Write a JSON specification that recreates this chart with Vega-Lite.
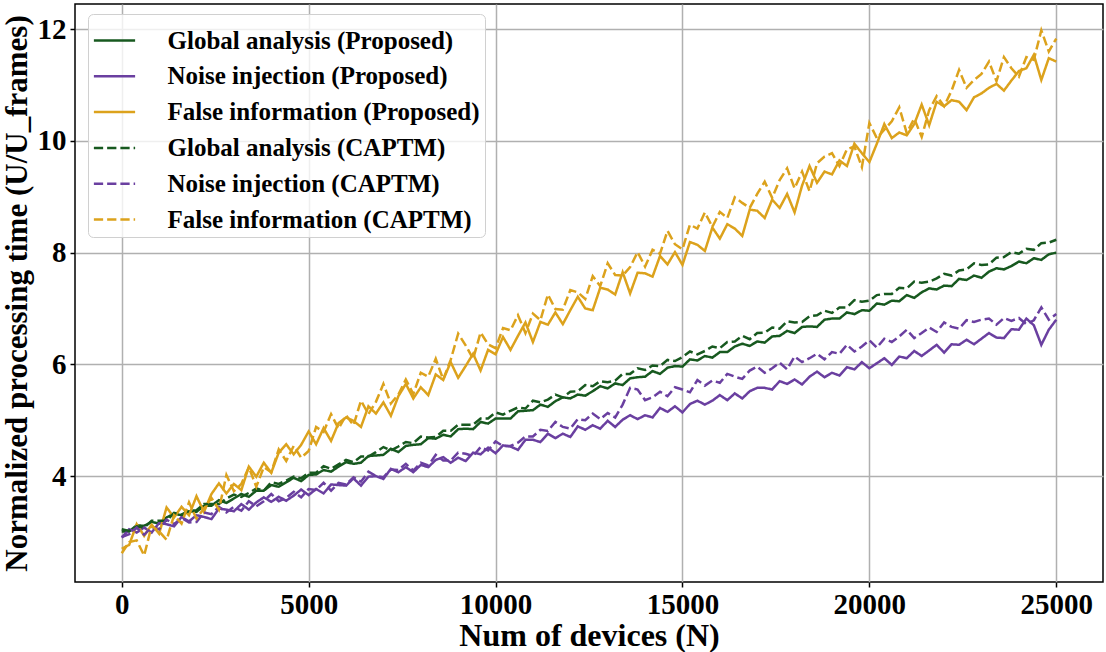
{
 "$schema": "https://vega.github.io/schema/vega-lite/v6.json",
 "width": 1028,
 "height": 578,
 "autosize": "none",
 "padding": {"left": 75, "top": 4, "right": 3, "bottom": 70},
 "background": "white",
 "config": {
  "font": "Liberation Serif",
  "view": {"stroke": "black", "strokeWidth": 1.5},
  "axis": {"labelFont": "Liberation Serif", "titleFont": "Liberation Serif", "labelFontWeight": "bold", "titleFontWeight": "bold", "labelColor": "black", "titleColor": "black", "labelFontSize": 29, "titleFontSize": 31, "gridColor": "#b0b0b0", "gridWidth": 1.5, "tickColor": "black", "tickSize": 5, "tickWidth": 1.5, "domain": false}
 },
 "data": {"values": [
{"x":0,"gp":3.01,"np":2.90,"fp":2.70,"gc":3.05,"nc":2.91,"fc":2.62},
{"x":200,"gp":3.01,"np":3.05,"fp":2.77,"gc":3.02,"nc":2.96,"fc":2.82},
{"x":400,"gp":3.12,"np":2.99,"fp":3.14,"gc":3.10,"nc":3.08,"fc":2.85},
{"x":600,"gp":3.11,"np":3.08,"fp":2.93,"gc":3.08,"nc":2.95,"fc":2.58},
{"x":800,"gp":3.18,"np":2.99,"fp":3.13,"gc":3.20,"nc":3.09,"fc":3.11},
{"x":1000,"gp":3.15,"np":3.16,"fp":2.97,"gc":3.20,"nc":3.05,"fc":3.01},
{"x":1200,"gp":3.26,"np":3.14,"fp":3.44,"gc":3.20,"nc":3.22,"fc":2.86},
{"x":1400,"gp":3.33,"np":3.10,"fp":3.26,"gc":3.34,"nc":3.14,"fc":3.30},
{"x":1600,"gp":3.30,"np":3.27,"fp":3.45,"gc":3.31,"nc":3.25,"fc":3.15},
{"x":1800,"gp":3.37,"np":3.19,"fp":3.30,"gc":3.38,"nc":3.17,"fc":3.53},
{"x":2000,"gp":3.36,"np":3.30,"fp":3.64,"gc":3.39,"nc":3.18,"fc":3.24},
{"x":2200,"gp":3.47,"np":3.27,"fp":3.36,"gc":3.50,"nc":3.35,"fc":3.42},
{"x":2400,"gp":3.47,"np":3.23,"fp":3.68,"gc":3.50,"nc":3.32,"fc":3.61},
{"x":2600,"gp":3.57,"np":3.42,"fp":3.87,"gc":3.50,"nc":3.45,"fc":3.40},
{"x":2800,"gp":3.52,"np":3.40,"fp":3.69,"gc":3.60,"nc":3.35,"fc":4.02},
{"x":3000,"gp":3.60,"np":3.37,"fp":3.86,"gc":3.67,"nc":3.45,"fc":3.73},
{"x":3200,"gp":3.68,"np":3.50,"fp":3.75,"gc":3.63,"nc":3.38,"fc":3.86},
{"x":3400,"gp":3.63,"np":3.40,"fp":4.17,"gc":3.70,"nc":3.55,"fc":4.16},
{"x":3600,"gp":3.74,"np":3.53,"fp":3.99,"gc":3.78,"nc":3.46,"fc":3.81},
{"x":3800,"gp":3.74,"np":3.62,"fp":4.24,"gc":3.74,"nc":3.55,"fc":4.16},
{"x":4000,"gp":3.84,"np":3.54,"fp":4.06,"gc":3.89,"nc":3.68,"fc":4.07},
{"x":4200,"gp":3.81,"np":3.63,"fp":4.42,"gc":3.86,"nc":3.55,"fc":4.48},
{"x":4400,"gp":3.89,"np":3.56,"fp":4.57,"gc":3.92,"nc":3.61,"fc":4.27},
{"x":4600,"gp":3.97,"np":3.65,"fp":4.39,"gc":3.99,"nc":3.72,"fc":4.54},
{"x":4800,"gp":3.91,"np":3.76,"fp":4.56,"gc":3.96,"nc":3.62,"fc":4.33},
{"x":5000,"gp":4.02,"np":3.66,"fp":4.80,"gc":4.06,"nc":3.77,"fc":4.45},
{"x":5200,"gp":4.03,"np":3.77,"fp":4.57,"gc":4.06,"nc":3.75,"fc":4.88},
{"x":5400,"gp":4.11,"np":3.69,"fp":4.86,"gc":4.18,"nc":3.88,"fc":4.79},
{"x":5600,"gp":4.08,"np":3.85,"fp":4.63,"gc":4.13,"nc":3.74,"fc":5.11},
{"x":5800,"gp":4.17,"np":3.84,"fp":4.95,"gc":4.21,"nc":3.88,"fc":4.85},
{"x":6000,"gp":4.25,"np":3.83,"fp":5.05,"gc":4.29,"nc":3.85,"fc":5.09},
{"x":6200,"gp":4.22,"np":3.96,"fp":4.99,"gc":4.25,"nc":3.98,"fc":4.91},
{"x":6400,"gp":4.24,"np":3.83,"fp":4.88,"gc":4.35,"nc":3.90,"fc":5.35},
{"x":6600,"gp":4.36,"np":3.99,"fp":5.25,"gc":4.35,"nc":4.08,"fc":5.11},
{"x":6800,"gp":4.37,"np":4.00,"fp":5.12,"gc":4.43,"nc":4.00,"fc":5.33},
{"x":7000,"gp":4.38,"np":3.95,"fp":5.32,"gc":4.52,"nc":3.98,"fc":5.65},
{"x":7200,"gp":4.49,"np":4.13,"fp":5.08,"gc":4.46,"nc":4.12,"fc":5.30},
{"x":7400,"gp":4.43,"np":4.07,"fp":5.43,"gc":4.53,"nc":4.11,"fc":5.46},
{"x":7600,"gp":4.54,"np":4.16,"fp":5.65,"gc":4.61,"nc":4.22,"fc":5.73},
{"x":7800,"gp":4.56,"np":4.07,"fp":5.39,"gc":4.59,"nc":4.10,"fc":5.47},
{"x":8000,"gp":4.57,"np":4.20,"fp":5.59,"gc":4.71,"nc":4.24,"fc":5.85},
{"x":8200,"gp":4.68,"np":4.16,"fp":5.45,"gc":4.69,"nc":4.19,"fc":5.78},
{"x":8400,"gp":4.67,"np":4.29,"fp":5.82,"gc":4.70,"nc":4.38,"fc":6.10},
{"x":8600,"gp":4.74,"np":4.34,"fp":5.72,"gc":4.81,"nc":4.28,"fc":5.73},
{"x":8800,"gp":4.71,"np":4.24,"fp":6.04,"gc":4.81,"nc":4.28,"fc":6.08},
{"x":9000,"gp":4.84,"np":4.33,"fp":5.76,"gc":4.92,"nc":4.42,"fc":6.55},
{"x":9200,"gp":4.85,"np":4.27,"fp":5.97,"gc":4.92,"nc":4.40,"fc":6.34},
{"x":9400,"gp":4.84,"np":4.42,"fp":6.19,"gc":4.92,"nc":4.36,"fc":6.10},
{"x":9600,"gp":4.97,"np":4.39,"fp":5.89,"gc":5.03,"nc":4.52,"fc":6.57},
{"x":9800,"gp":4.94,"np":4.51,"fp":6.26,"gc":5.03,"nc":4.46,"fc":6.36},
{"x":10000,"gp":5.03,"np":4.41,"fp":6.18,"gc":5.14,"nc":4.62,"fc":6.29},
{"x":10200,"gp":5.03,"np":4.55,"fp":6.49,"gc":5.10,"nc":4.54,"fc":6.65},
{"x":10400,"gp":5.03,"np":4.53,"fp":6.26,"gc":5.17,"nc":4.54,"fc":6.61},
{"x":10600,"gp":5.16,"np":4.47,"fp":6.51,"gc":5.23,"nc":4.60,"fc":6.88},
{"x":10800,"gp":5.17,"np":4.65,"fp":6.75,"gc":5.21,"nc":4.71,"fc":6.56},
{"x":11000,"gp":5.18,"np":4.65,"fp":6.40,"gc":5.35,"nc":4.71,"fc":6.91},
{"x":11200,"gp":5.28,"np":4.61,"fp":6.76,"gc":5.32,"nc":4.83,"fc":6.79},
{"x":11400,"gp":5.24,"np":4.76,"fp":6.71,"gc":5.37,"nc":4.81,"fc":7.25},
{"x":11600,"gp":5.34,"np":4.68,"fp":6.93,"gc":5.46,"nc":4.97,"fc":6.99},
{"x":11800,"gp":5.41,"np":4.76,"fp":6.72,"gc":5.41,"nc":4.88,"fc":6.98},
{"x":12000,"gp":5.39,"np":4.70,"fp":6.97,"gc":5.51,"nc":4.85,"fc":7.33},
{"x":12200,"gp":5.46,"np":4.89,"fp":7.21,"gc":5.52,"nc":5.02,"fc":7.29},
{"x":12400,"gp":5.44,"np":4.83,"fp":7.00,"gc":5.63,"nc":5.00,"fc":7.17},
{"x":12600,"gp":5.52,"np":4.91,"fp":6.97,"gc":5.61,"nc":5.12,"fc":7.58},
{"x":12800,"gp":5.61,"np":4.85,"fp":7.37,"gc":5.70,"nc":5.02,"fc":7.40},
{"x":13000,"gp":5.57,"np":4.99,"fp":7.34,"gc":5.68,"nc":5.13,"fc":7.81},
{"x":13200,"gp":5.66,"np":4.88,"fp":7.25,"gc":5.71,"nc":5.05,"fc":7.60},
{"x":13400,"gp":5.63,"np":5.01,"fp":7.65,"gc":5.83,"nc":5.28,"fc":7.59},
{"x":13600,"gp":5.75,"np":5.09,"fp":7.27,"gc":5.83,"nc":5.58,"fc":7.74},
{"x":13800,"gp":5.77,"np":5.02,"fp":7.64,"gc":5.93,"nc":5.55,"fc":8.01},
{"x":14000,"gp":5.78,"np":5.09,"fp":7.63,"gc":5.90,"nc":5.36,"fc":7.75},
{"x":14200,"gp":5.88,"np":5.05,"fp":7.57,"gc":5.98,"nc":5.41,"fc":8.05},
{"x":14400,"gp":5.83,"np":5.22,"fp":7.94,"gc":5.97,"nc":5.51,"fc":7.98},
{"x":14600,"gp":5.94,"np":5.15,"fp":7.79,"gc":6.08,"nc":5.43,"fc":8.39},
{"x":14800,"gp":5.97,"np":5.25,"fp":8.01,"gc":6.06,"nc":5.59,"fc":8.15},
{"x":15000,"gp":5.96,"np":5.14,"fp":7.78,"gc":6.13,"nc":5.55,"fc":8.06},
{"x":15200,"gp":6.09,"np":5.29,"fp":8.19,"gc":6.23,"nc":5.50,"fc":8.50},
{"x":15400,"gp":6.07,"np":5.35,"fp":8.14,"gc":6.18,"nc":5.72,"fc":8.43},
{"x":15600,"gp":6.15,"np":5.28,"fp":8.03,"gc":6.24,"nc":5.62,"fc":8.72},
{"x":15800,"gp":6.12,"np":5.35,"fp":8.45,"gc":6.32,"nc":5.71,"fc":8.46},
{"x":16000,"gp":6.22,"np":5.45,"fp":8.25,"gc":6.29,"nc":5.67,"fc":8.73},
{"x":16200,"gp":6.22,"np":5.36,"fp":8.51,"gc":6.40,"nc":5.83,"fc":8.62},
{"x":16400,"gp":6.32,"np":5.48,"fp":8.43,"gc":6.41,"nc":5.78,"fc":8.99},
{"x":16600,"gp":6.37,"np":5.39,"fp":8.30,"gc":6.51,"nc":5.74,"fc":8.89},
{"x":16800,"gp":6.33,"np":5.52,"fp":8.77,"gc":6.45,"nc":5.89,"fc":8.80},
{"x":17000,"gp":6.41,"np":5.58,"fp":8.75,"gc":6.56,"nc":5.96,"fc":9.05},
{"x":17200,"gp":6.39,"np":5.58,"fp":8.62,"gc":6.57,"nc":5.85,"fc":9.27},
{"x":17400,"gp":6.50,"np":5.55,"fp":8.95,"gc":6.66,"nc":5.93,"fc":8.98},
{"x":17600,"gp":6.51,"np":5.70,"fp":8.80,"gc":6.64,"nc":6.03,"fc":9.30},
{"x":17800,"gp":6.60,"np":5.65,"fp":9.05,"gc":6.77,"nc":5.91,"fc":9.51},
{"x":18000,"gp":6.56,"np":5.73,"fp":8.72,"gc":6.75,"nc":6.14,"fc":9.15},
{"x":18200,"gp":6.67,"np":5.64,"fp":9.20,"gc":6.76,"nc":6.04,"fc":9.45},
{"x":18400,"gp":6.68,"np":5.78,"fp":9.55,"gc":6.86,"nc":6.11,"fc":9.10},
{"x":18600,"gp":6.67,"np":5.87,"fp":9.25,"gc":6.88,"nc":6.19,"fc":9.60},
{"x":18800,"gp":6.80,"np":5.77,"fp":9.45,"gc":6.96,"nc":6.09,"fc":9.72},
{"x":19000,"gp":6.82,"np":5.85,"fp":9.40,"gc":6.92,"nc":6.22,"fc":9.78},
{"x":19200,"gp":6.82,"np":5.80,"fp":9.65,"gc":7.02,"nc":6.19,"fc":9.55},
{"x":19400,"gp":6.93,"np":5.95,"fp":9.55,"gc":7.02,"nc":6.35,"fc":9.85},
{"x":19600,"gp":6.90,"np":5.91,"fp":9.95,"gc":7.15,"nc":6.23,"fc":9.90},
{"x":19800,"gp":6.97,"np":6.04,"fp":9.78,"gc":7.12,"nc":6.32,"fc":9.53},
{"x":20000,"gp":6.96,"np":5.93,"fp":9.62,"gc":7.14,"nc":6.43,"fc":10.32},
{"x":20200,"gp":7.09,"np":6.02,"fp":9.95,"gc":7.24,"nc":6.30,"fc":10.05},
{"x":20400,"gp":7.07,"np":6.11,"fp":10.30,"gc":7.26,"nc":6.46,"fc":10.20},
{"x":20600,"gp":7.14,"np":5.99,"fp":10.05,"gc":7.26,"nc":6.40,"fc":10.35},
{"x":20800,"gp":7.13,"np":6.14,"fp":10.15,"gc":7.37,"nc":6.50,"fc":10.60},
{"x":21000,"gp":7.24,"np":6.11,"fp":10.10,"gc":7.36,"nc":6.62,"fc":10.14},
{"x":21200,"gp":7.19,"np":6.24,"fp":10.30,"gc":7.48,"nc":6.47,"fc":10.40},
{"x":21400,"gp":7.29,"np":6.15,"fp":10.65,"gc":7.46,"nc":6.56,"fc":10.07},
{"x":21600,"gp":7.36,"np":6.25,"fp":10.28,"gc":7.48,"nc":6.66,"fc":10.55},
{"x":21800,"gp":7.34,"np":6.35,"fp":10.70,"gc":7.54,"nc":6.58,"fc":10.80},
{"x":22000,"gp":7.41,"np":6.21,"fp":10.62,"gc":7.62,"nc":6.75,"fc":10.62},
{"x":22200,"gp":7.40,"np":6.36,"fp":10.73,"gc":7.59,"nc":6.67,"fc":10.90},
{"x":22400,"gp":7.53,"np":6.35,"fp":10.70,"gc":7.68,"nc":6.64,"fc":11.27},
{"x":22600,"gp":7.51,"np":6.44,"fp":10.55,"gc":7.70,"nc":6.79,"fc":10.95},
{"x":22800,"gp":7.59,"np":6.36,"fp":10.78,"gc":7.81,"nc":6.76,"fc":11.09},
{"x":23000,"gp":7.55,"np":6.46,"fp":10.85,"gc":7.78,"nc":6.80,"fc":11.20},
{"x":23200,"gp":7.66,"np":6.56,"fp":10.95,"gc":7.79,"nc":6.82,"fc":11.42},
{"x":23400,"gp":7.72,"np":6.48,"fp":11.02,"gc":7.91,"nc":6.71,"fc":11.07},
{"x":23600,"gp":7.70,"np":6.47,"fp":10.90,"gc":7.92,"nc":6.83,"fc":11.50},
{"x":23800,"gp":7.76,"np":6.63,"fp":11.08,"gc":8.01,"nc":6.78,"fc":11.30},
{"x":24000,"gp":7.84,"np":6.62,"fp":11.25,"gc":7.98,"nc":6.83,"fc":11.15},
{"x":24200,"gp":7.81,"np":6.82,"fp":11.30,"gc":8.07,"nc":6.72,"fc":11.50},
{"x":24400,"gp":7.90,"np":6.70,"fp":11.54,"gc":8.05,"nc":6.79,"fc":11.45},
{"x":24600,"gp":7.87,"np":6.35,"fp":11.09,"gc":8.17,"nc":7.02,"fc":11.98},
{"x":24800,"gp":7.97,"np":6.62,"fp":11.48,"gc":8.18,"nc":6.80,"fc":11.60},
{"x":25000,"gp":8.00,"np":6.80,"fp":11.42,"gc":8.23,"nc":6.90,"fc":11.83}
 ]},
 "transform": [{"fold": ["gp", "np", "fp", "gc", "nc", "fc"], "as": ["series", "y"]}],
 "mark": {"type": "line", "strokeWidth": 2.5, "clip": true},
 "encoding": {
  "x": {"field": "x", "type": "quantitative", "scale": {"domain": [-1250, 26250], "nice": false, "zero": false}, "axis": {"values": [0, 5000, 10000, 15000, 20000, 25000], "format": "d", "title": "Num of devices (N)", "titleFontSize": 32, "labelPadding": 3, "titlePadding": 1}},
  "y": {"field": "y", "type": "quantitative", "scale": {"domain": [2.105, 12.45], "nice": false, "zero": false}, "axis": {"values": [4, 6, 8, 10, 12], "format": "d", "title": "Normalized processing time (U/U_frames)", "labelPadding": 4, "titlePadding": 4}},
  "color": {"field": "series", "type": "nominal",
   "scale": {"domain": ["gp", "np", "fp", "gc", "nc", "fc"], "range": ["#17591f", "#6a3fa0", "#dca21c", "#17591f", "#6a3fa0", "#dca21c"]},
   "legend": {"title": null, "orient": "none", "legendX": 13, "legendY": 10, "symbolType": "stroke", "symbolSize": 1700, "symbolStrokeWidth": 2.5, "labelFont": "Liberation Serif", "labelFontSize": 25, "labelFontWeight": "bold", "labelColor": "black", "labelLimit": 600, "labelOffset": 31, "rowPadding": 0.8, "padding": 4.5, "fillColor": "rgba(255,255,255,0.8)", "strokeColor": "#d0d0d0", "cornerRadius": 5,
    "labelExpr": "datum.label == 'gp' ? 'Global analysis (Proposed)' : datum.label == 'np' ? 'Noise injection (Proposed)' : datum.label == 'fp' ? 'False information (Proposed)' : datum.label == 'gc' ? 'Global analysis (CAPTM)' : datum.label == 'nc' ? 'Noise injection (CAPTM)' : 'False information (CAPTM)'"}},
  "strokeDash": {"field": "series", "type": "nominal",
   "scale": {"domain": ["gp", "np", "fp", "gc", "nc", "fc"], "range": [[1, 0], [1, 0], [1, 0], [9.25, 4], [9.25, 4], [9.25, 4]]},
   "legend": {"title": null, "orient": "none", "legendX": 13, "legendY": 10, "symbolType": "stroke", "symbolSize": 1700, "symbolStrokeWidth": 2.5, "labelFont": "Liberation Serif", "labelFontSize": 25, "labelFontWeight": "bold", "labelColor": "black", "labelLimit": 600, "labelOffset": 31, "rowPadding": 0.8, "padding": 4.5, "fillColor": "rgba(255,255,255,0.8)", "strokeColor": "#d0d0d0", "cornerRadius": 5,
    "labelExpr": "datum.label == 'gp' ? 'Global analysis (Proposed)' : datum.label == 'np' ? 'Noise injection (Proposed)' : datum.label == 'fp' ? 'False information (Proposed)' : datum.label == 'gc' ? 'Global analysis (CAPTM)' : datum.label == 'nc' ? 'Noise injection (CAPTM)' : 'False information (CAPTM)'"}}
 }
}
